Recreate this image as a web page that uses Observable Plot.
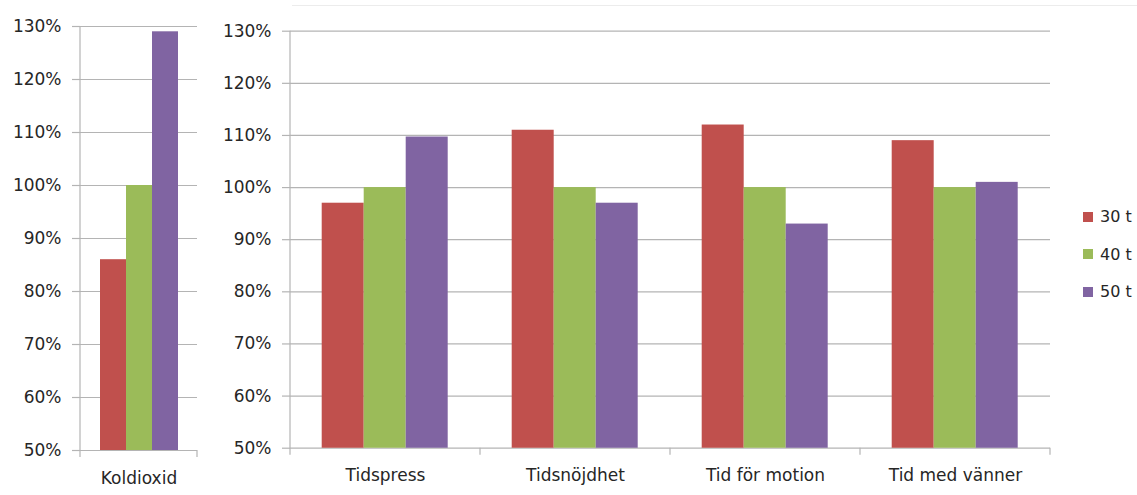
<!DOCTYPE html>
<html>
<head>
<meta charset="utf-8">
<script src="https://cdn.jsdelivr.net/npm/d3@7"></script>
<script src="https://cdn.jsdelivr.net/npm/@observablehq/plot@0.6"></script>
<style>
  html, body { margin: 0; padding: 0; background: #fff; }
  body { width: 1137px; height: 495px; position: relative; overflow: hidden; font-family: "DejaVu Sans", sans-serif; }
  #left { position: absolute; left: 0; top: 0; }
  #right { position: absolute; left: 200px; top: 0; }
  #legend { position: absolute; left: 1083px; top: 0; }
  .item { position: absolute; left: 0; display: flex; align-items: center; height: 20px; white-space: nowrap; font-size: 16px; color: #262626; }
  .sw { width: 10px; height: 10px; margin-right: 7px; }
  #topline { position: absolute; left: 292px; top: 5px; width: 845px; height: 1px; background: #ececec; }
</style>
</head>
<body>
<div id="topline"></div>
<div id="left"></div>
<div id="right"></div>
<div id="legend"></div>
<script>
// ---- data ----
const series = ["30 t", "40 t", "50 t"];
const colors = ["#C0504D", "#9BBB59", "#8064A2"];
const co2Categories = ["Koldioxid"];
const co2_30 = [86];
const co2_40 = [100];
const co2_50 = [129];
const categories = ["Tidspress", "Tidsnöjdhet", "Tid för motion", "Tid med vänner"];
const time_30 = [97, 111, 112, 109];
const time_40 = [100, 100, 100, 100];
const time_50 = [109.7, 97, 93, 101];
const yTicks = [50, 60, 70, 80, 90, 100, 110, 120, 130];
const yDomain = [50, 130];

const gridColor = "#b4b4b4";
const textColor = "#262626";

function tidy(cats, a, b, c) {
  const out = [];
  cats.forEach((cat, i) => {
    [a, b, c].forEach((arr, j) => out.push({cat, series: series[j], value: arr[i]}));
  });
  return out;
}

function separators(cats) {
  return Plot.frame({
    facet: "super",
    render(index, scales, values, dimensions) {
      const {width, height, marginLeft, marginRight, marginTop, marginBottom} = dimensions;
      const y0 = height - marginBottom;
      let edges;
      const fx = scales.fx;
      if (fx && fx.domain && fx.bandwidth) {
        edges = fx.domain().map(d => fx(d));
        edges.push(fx(cats[cats.length - 1]) + fx.bandwidth());
      } else {
        const w = (width - marginLeft - marginRight) / cats.length;
        edges = d3.range(cats.length + 1).map(i => marginLeft + i * w);
      }
      const g = d3.create("svg:g").attr("stroke", gridColor).attr("stroke-width", 1.2);
      edges.forEach((e, i) => {
        g.append("line").attr("x1", e).attr("x2", e)
          .attr("y1", i === 0 ? marginTop : y0).attr("y2", y0 + 7);
      });
      return g.node();
    }
  });
}

function chart(cats, data, {width, height, marginLeft, marginRight, marginTop, marginBottom}) {
  return Plot.plot({
    width, height, marginLeft, marginRight, marginTop, marginBottom,
    style: {fontFamily: "DejaVu Sans", fontSize: "17px", color: textColor, background: "transparent"},
    fx: {domain: cats, padding: 0},
    x: {domain: series, paddingInner: 0, paddingOuter: 0.75, axis: null},
    y: {domain: yDomain},
    color: {domain: series, range: colors},
    marks: [
      Plot.gridY(yTicks, {stroke: gridColor, strokeOpacity: 1, strokeWidth: 1.2}),
      Plot.barY(data, {fx: "cat", x: "series", y: "value", fill: "series", clip: true}),
      Plot.axisY(yTicks, {tickFormat: d => d + "%", tickSize: 8, tickPadding: 11, stroke: gridColor, strokeWidth: 1.2, fill: textColor, label: null}),
      Plot.axisFx({anchor: "bottom", tickSize: 0, tickPadding: 21, label: null, fill: textColor}),
      separators(cats)
    ]
  });
}

document.getElementById("left").append(
  chart(co2Categories, tidy(co2Categories, co2_30, co2_40, co2_50),
    {width: 200, height: 495, marginLeft: 80, marginRight: 3, marginTop: 26, marginBottom: 45})
);
document.getElementById("right").append(
  chart(categories, tidy(categories, time_30, time_40, time_50),
    {width: 860, height: 495, marginLeft: 89.3, marginRight: 8.5, marginTop: 30.7, marginBottom: 47.3})
);

// legend
const legendTops = [206.5, 244, 281.5];
const legend = document.getElementById("legend");
series.forEach((s, i) => {
  const item = document.createElement("div");
  item.className = "item";
  item.style.top = legendTops[i] + "px";
  item.innerHTML = `<span class="sw" style="background:${colors[i]}"></span><span>${s}</span>`;
  legend.append(item);
});
</script>
</body>
</html>
